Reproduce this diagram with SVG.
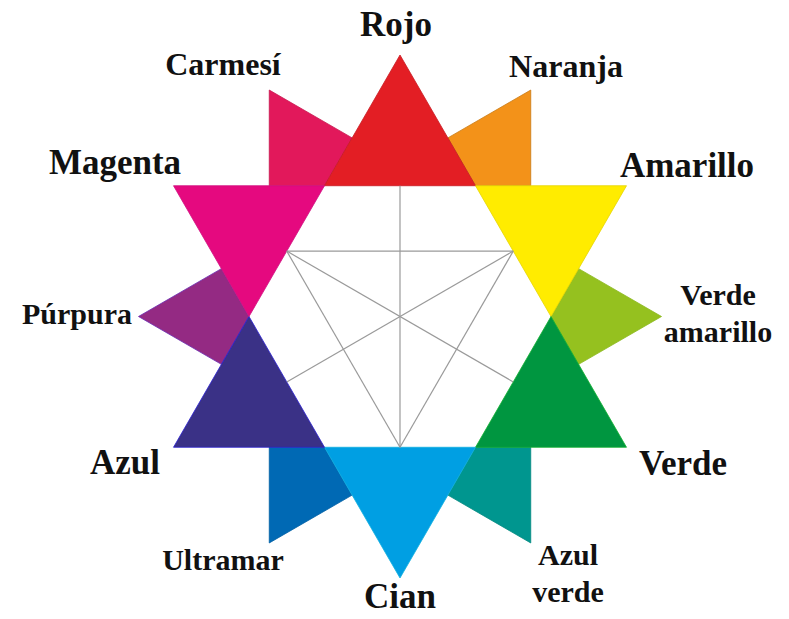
<svg xmlns="http://www.w3.org/2000/svg" width="789" height="619" viewBox="0 0 789 619">
<style>
.lbl{font-family:"Liberation Serif","Times New Roman",serif;font-weight:bold;fill:#111;text-anchor:middle}
.big{font-size:35px}
.sm{font-size:30px}
.grid{stroke:#9a9a9a;stroke-width:1.2;fill:none}
polygon{stroke-width:0.8}
</style>
<rect width="789" height="619" fill="#fff"/>
<g id="small-triangles">
<g id="carmesi"><polygon points="269.25,90.04 352.14,137.9 324.5,185.73 269.26,185.76" fill="#E2185B" stroke="#C8174F"/></g>
<g id="naranja"><polygon points="530.75,90.04 447.86,137.9 475.5,185.73 530.74,185.76" fill="#F39219" stroke="#C97A14"/></g>
<g id="verde-amarillo"><polygon points="661.5,316.5 578.6,268.65 551,316.5 578.6,364.35" fill="#95C11F" stroke="#8AB81C"/></g>
<g id="azul-verde"><polygon points="530.75,542.96 447.86,495.1 475.5,447.27 530.74,447.24" fill="#00968F" stroke="#00887F"/></g>
<g id="ultramar"><polygon points="269.25,542.96 352.14,495.1 324.5,447.27 269.26,447.24" fill="#0069B4" stroke="#005FA5"/></g>
<g id="purpura"><polygon points="138.5,316.5 221.4,268.65 249,316.5 221.4,364.35" fill="#942A83" stroke="#6A28B0"/></g>
</g>
<g id="big-triangles">
<g id="rojo"><polygon points="400,55 324.5,185.73 475.5,185.73" fill="#E31E24" stroke="#C81A22"/></g>
<g id="amarillo"><polygon points="475.5,185.73 626.5,185.73 551,316.5" fill="#FFEC00" stroke="#E6D400"/></g>
<g id="verde"><polygon points="551,316.5 626.5,447.27 475.5,447.27" fill="#009640" stroke="#10B030"/></g>
<g id="cian"><polygon points="475.5,447.27 400,578 324.5,447.27" fill="#009FE3" stroke="#10B0E0"/></g>
<g id="azul"><polygon points="324.5,447.27 173.5,447.27 249,316.5" fill="#3A3186" stroke="#2A20D0"/></g>
<g id="magenta"><polygon points="249,316.5 173.5,185.73 324.5,185.73" fill="#E5097F" stroke="#D01080"/></g>
</g>
<g id="connectors" class="grid">
<line x1="286.75" y1="251.1" x2="513.25" y2="251.1"/>
<line x1="286.75" y1="251.1" x2="400" y2="447.27"/>
<line x1="513.25" y1="251.1" x2="400" y2="447.27"/>
<line x1="400" y1="185.73" x2="400" y2="447.27"/>
<line x1="286.75" y1="251.1" x2="513.25" y2="381.9"/>
<line x1="513.25" y1="251.1" x2="286.75" y2="381.9"/>
</g>
<g id="labels">
<text class="lbl big" x="396" y="36">Rojo</text>
<text class="lbl sm" x="223" y="75" style="font-size:32px">Carmesí</text>
<text class="lbl sm" x="566" y="77" style="font-size:32px">Naranja</text>
<text class="lbl big" x="687" y="177">Amarillo</text>
<text class="lbl big" x="115" y="174">Magenta</text>
<text class="lbl sm" x="77" y="324">Púrpura</text>
<text class="lbl sm" x="718" y="305">Verde</text>
<text class="lbl sm" x="718" y="342">amarillo</text>
<text class="lbl big" x="683" y="475">Verde</text>
<text class="lbl big" x="125" y="474">Azul</text>
<text class="lbl sm" x="223" y="570">Ultramar</text>
<text class="lbl big" x="400" y="608">Cian</text>
<text class="lbl sm" x="568" y="565">Azul</text>
<text class="lbl sm" x="568" y="602">verde</text>
</g>
</svg>
